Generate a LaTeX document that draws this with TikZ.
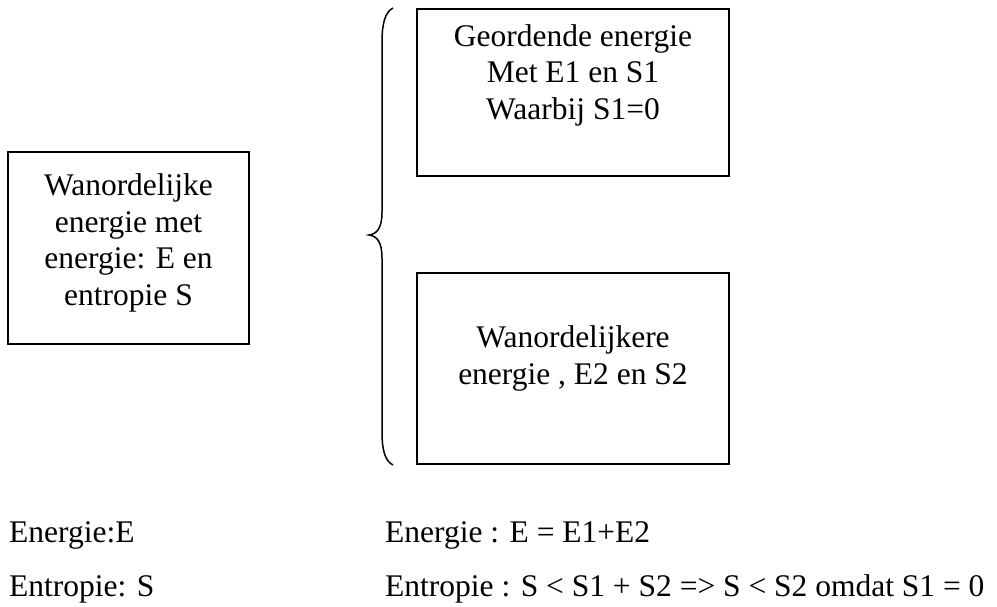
\documentclass[tikz,border=0pt]{standalone}
\usepackage{fontspec}
\setmainfont{Liberation Serif}
\begin{document}
\begin{tikzpicture}[x=1pt,y=-1pt,
  box/.style={draw=black, line width=1.6pt, inner sep=0pt},
  txt/.style={inner sep=0pt, align=center, anchor=base,
    font=\fontsize{31.5}{36.5}\selectfont},
  plain/.style={inner sep=0pt, anchor=base west,
    font=\fontsize{31.5}{36.5}\selectfont}]
\useasboundingbox (0,0) rectangle (997,606);

% boxes
\node[box, minimum width=241pt, minimum height=192pt] (whole) at (128.5,248) {};
\node[box, minimum width=312pt, minimum height=167pt] (ordered) at (573,92.5) {};
\node[box, minimum width=312pt, minimum height=191pt] (rest) at (573,368.5) {};

% box texts (anchored on the baseline of their last line)
\node[txt] (wholetxt) at (128.5,305) {Wanordelijke\\energie met\\energie: E en\\entropie S};
\node[txt] (orderedtxt) at (573,119) {Geordende energie\\Met E1 en S1\\Waarbij S1=0};
\node[txt] (resttxt) at (573,384) {Wanordelijkere\\energie , E2 en S2};

% curly brace splitting the energy
\coordinate (bracetip) at (369,235);
\draw[line width=1.5pt]
  (393,8) .. controls (385,12) and (382,24) .. (382,42)
  -- (382,212) .. controls (382,228) and (377,234) .. (bracetip)
  .. controls (377,236) and (382,242) .. (382,258)
  -- (382,432) .. controls (382,450) and (385,461) .. (393,465);

% summary lines
\node[plain] (e0) at (9,542) {Energie:E};
\node[plain] (s0) at (9,596) {Entropie: S};
\node[plain] (e1) at (385,542) {Energie : E = E1+E2};
\node[plain] (s1) at (385,596) {Entropie : S < S1 + S2 => S < S2 omdat S1 = 0};
\end{tikzpicture}
\end{document}
